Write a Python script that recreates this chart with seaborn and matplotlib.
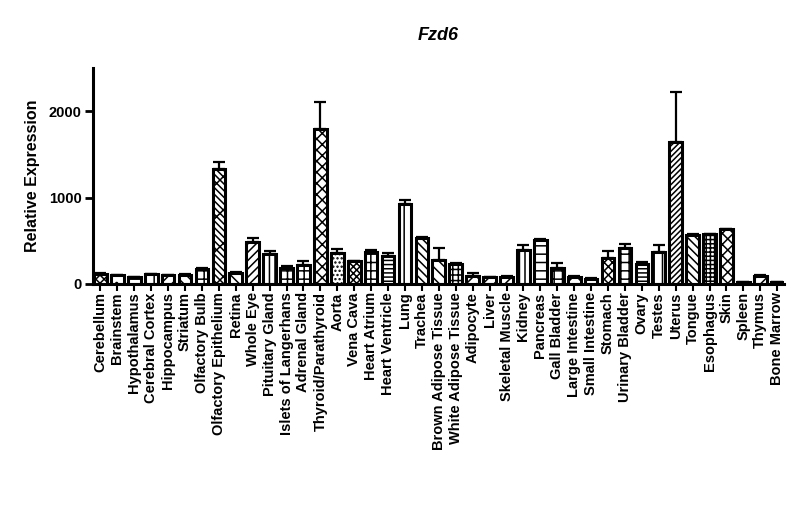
import matplotlib
matplotlib.use("Agg")
import matplotlib.pyplot as plt
import seaborn as sns
import numpy as np

# ==========================================
# Data
# ==========================================

tissues = [
    "Cerebellum", "Brainstem", "Hypothalamus", "Cerebral Cortex", "Hippocampus",
    "Striatum", "Olfactory Bulb", "Olfactory Epithelium", "Retina", "Whole Eye",
    "Pituitary Gland", "Islets of Langerhans", "Adrenal Gland", "Thyroid/Parathyroid",
    "Aorta", "Vena Cava", "Heart Atrium", "Heart Ventricle", "Lung", "Trachea",
    "Brown Adipose Tissue", "White Adipose Tissue", "Adipocyte", "Liver",
    "Skeletal Muscle", "Kidney", "Pancreas", "Gall Bladder", "Large Intestine",
    "Small Intestine", "Stomach", "Urinary Bladder", "Ovary", "Testes", "Uterus",
    "Tongue", "Esophagus", "Skin", "Spleen", "Thymus", "Bone Marrow",
]

expression = [
    120, 100, 80, 115, 100, 105, 175, 1335, 130, 480,
    345, 190, 220, 1795, 360, 260, 375, 325, 930, 530,
    275, 235, 95, 75, 85, 395, 510, 190, 85, 60,
    295, 415, 230, 375, 1640, 570, 578, 632, 23, 95, 20,
]

sem = [
    10, 5, 5, 5, 5, 5, 8, 80, 8, 55,
    40, 20, 40, 310, 40, 5, 20, 30, 45, 10,
    140, 8, 30, 5, 5, 55, 10, 50, 5, 5,
    90, 45, 20, 80, 575, 5, 5, 5, 3, 5, 2,
]

hatches = [
    "xxxx", "..", "--", "||", "///", "\\\\\\", "++", "\\\\\\\\x", "\\\\\\", "////",
    "|||", "++", "++", "xxx", "....", "xxxxx", "++", "----", "||", "\\\\\\\\",
    "\\\\\\", "+++", "xx", "///", "///", "|||", "--", "++", "xx", "--",
    "xxxx", "++", "----", "||", "//////", "\\\\\\\\", "++++", "xxx", "", "///", "",
]

# ==========================================
# Plot
# ==========================================

sns.set_style("ticks", {
    "text.color": "black",
    "axes.labelcolor": "black",
    "axes.edgecolor": "black",
    "xtick.color": "black",
    "ytick.color": "black",
})
plt.rcParams["font.family"] = ["Liberation Sans", "DejaVu Sans"]
plt.rcParams["hatch.linewidth"] = 1.1

fig = plt.figure(figsize=(8, 5.22), dpi=100)
ax = fig.add_axes([0.116, 0.456, 0.864, 0.414])

sns.barplot(
    x=tissues,
    y=expression,
    color="white",
    edgecolor="black",
    linewidth=2.2,
    width=0.75,
    errorbar=None,
    ax=ax,
)

for patch, h in zip(ax.patches, hatches):
    patch.set_hatch(h)

pos = np.arange(len(tissues))
ax.errorbar(
    pos,
    expression,
    yerr=[np.zeros(len(sem)), sem],
    fmt="none",
    ecolor="black",
    elinewidth=1.6,
    capsize=4,
    capthick=1.6,
)

ax.set_xlim(-0.45, 40.4)
ax.set_ylim(0, 2500)
ax.set_yticks([0, 1000, 2000])

ax.set_title("Fzd6", fontsize=13, fontweight="bold", fontstyle="italic", pad=20)
ax.set_ylabel("Relative Expression", fontsize=11.5, fontweight="bold", labelpad=6)
ax.set_xlabel("")

ax.tick_params(axis="x", rotation=90, labelsize=10.5, width=1.5, length=5, pad=1)
ax.tick_params(axis="y", labelsize=10.5, width=2, length=6, pad=2)
for lbl in ax.get_xticklabels() + ax.get_yticklabels():
    lbl.set_fontweight("bold")

sns.despine(ax=ax)
ax.spines["left"].set_linewidth(2.2)
ax.spines["bottom"].set_linewidth(2.2)

fig.savefig("out.png", dpi=100)
plt.close(fig)
